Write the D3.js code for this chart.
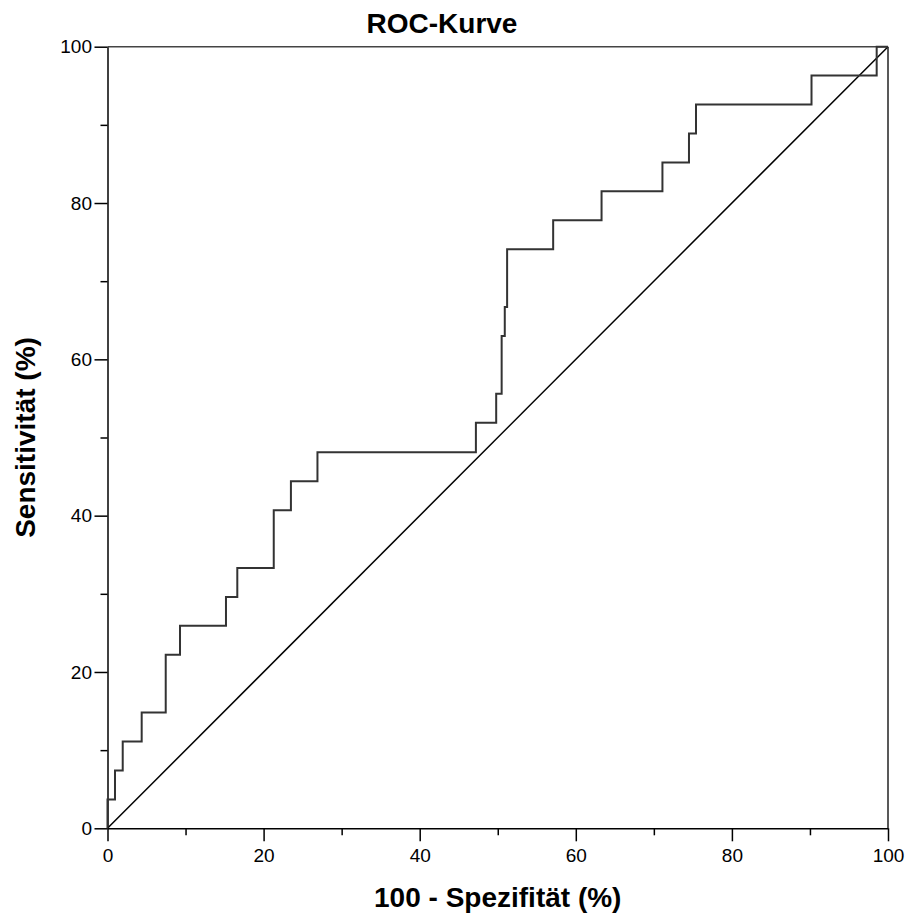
<!DOCTYPE html>
<html>
<head>
<meta charset="utf-8">
<script src="https://cdn.jsdelivr.net/npm/d3@7"></script>
<style>
  body { margin: 0; background: #fff; }
  text { font-family: "Liberation Sans", Arial, sans-serif; fill: #000; }
</style>
</head>
<body>
<div id="chart"></div>
<script>
// ROC-Punkte (Ecken der Treppe, Prozent)
const fpr = [0, 0, 0.96, 1.95, 4.38, 7.46, 9.29, 15.18, 16.63, 21.3, 23.5, 26.9, 47.2, 49.8, 50.5, 50.9, 51.2, 57.1, 63.3, 71.1, 74.5, 75.4, 90.2, 98.55, 100];
const sens = [0, 3.7, 7.4, 11.1, 14.8, 22.2, 25.9, 29.6, 33.3, 40.7, 44.4, 48.1, 51.9, 55.6, 63.0, 66.7, 74.1, 77.8, 81.5, 85.2, 88.9, 92.6, 96.3, 100, 100];
const majorTicks = [0, 20, 40, 60, 80, 100];
const minorTicks = [10, 30, 50, 70, 90];
const diagonal = [0, 100];

const W = 908, H = 915;
const x = d3.scaleLinear().domain([0, 100]).range([107.5, 888]);
const y = d3.scaleLinear().domain([0, 100]).range([828.3, 46.7]);

const svg = d3.select("#chart").append("svg")
  .attr("width", W)
  .attr("height", H);

// Titel
svg.append("text")
  .attr("x", 442)
  .attr("y", 33)
  .attr("text-anchor", "middle")
  .style("font-size", "28px")
  .style("font-weight", "bold")
  .text("ROC-Kurve");

// Rahmen oben / rechts
svg.append("line")
  .attr("x1", x(0)).attr("x2", x(100))
  .attr("y1", y(100)).attr("y2", y(100))
  .attr("stroke", "#444").attr("stroke-width", 1.6);
svg.append("line")
  .attr("x1", x(100)).attr("x2", x(100))
  .attr("y1", y(0)).attr("y2", y(100))
  .attr("stroke", "#222").attr("stroke-width", 1.5);

// Achsen
svg.append("g")
  .attr("transform", `translate(0,${y(0)})`)
  .call(d3.axisBottom(x).tickValues(majorTicks).tickSize(13).tickSizeOuter(0).tickPadding(7).tickFormat(d3.format("d")));
svg.append("g")
  .attr("transform", `translate(0,${y(0)})`)
  .call(d3.axisBottom(x).tickValues(minorTicks).tickSize(7).tickFormat(""))
  .select(".domain").remove();

svg.append("g")
  .attr("transform", `translate(${x(0)},0)`)
  .call(d3.axisLeft(y).tickValues(majorTicks).tickSize(13).tickSizeOuter(0).tickPadding(2.5).tickFormat(d3.format("d")));
svg.append("g")
  .attr("transform", `translate(${x(0)},0)`)
  .call(d3.axisLeft(y).tickValues(minorTicks).tickSize(7).tickFormat(""))
  .select(".domain").remove();

svg.selectAll(".domain").attr("stroke", "#000").attr("stroke-width", 1.5);
svg.selectAll(".tick line").attr("stroke", "#000").attr("stroke-width", 1.5);
svg.selectAll(".tick text")
  .style("font-size", "19px")
  .style("font-family", "'Liberation Sans', Arial, sans-serif")
  .attr("fill", "#000");

// Achsenbeschriftungen
svg.append("text")
  .attr("x", (x(0) + x(100)) / 2)
  .attr("y", 907)
  .attr("text-anchor", "middle")
  .style("font-size", "28px")
  .style("font-weight", "bold")
  .text("100 - Spezifität (%)");

svg.append("text")
  .attr("transform", `translate(35,${(y(0) + y(100)) / 2}) rotate(-90)`)
  .attr("text-anchor", "middle")
  .style("font-size", "28px")
  .style("font-weight", "bold")
  .text("Sensitivität (%)");

// Diagonale
svg.append("path")
  .datum(diagonal)
  .attr("d", d3.line().x(d => x(d)).y(d => y(d)))
  .attr("fill", "none")
  .attr("stroke", "#000")
  .attr("stroke-width", 1.5);

// ROC-Kurve
const pts = fpr.map((f, i) => [f, sens[i]]);
svg.append("path")
  .datum(pts)
  .attr("d", d3.line().x(d => x(d[0])).y(d => y(d[1])).curve(d3.curveStepAfter))
  .attr("fill", "none")
  .attr("stroke", "#333")
  .attr("stroke-width", 2);
</script>
</body>
</html>
